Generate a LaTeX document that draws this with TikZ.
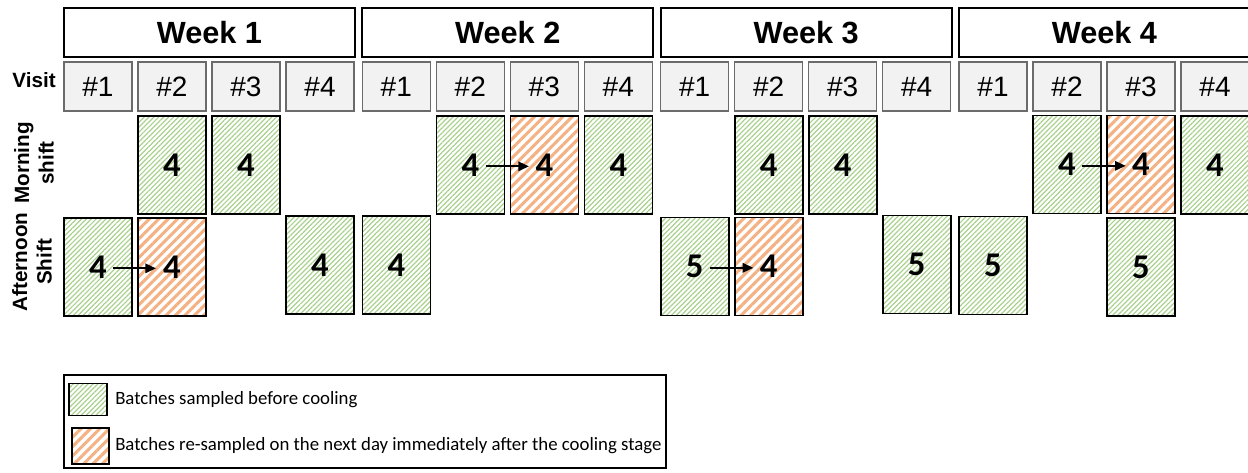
\documentclass[tikz,border=0pt]{standalone}
\usepackage{fontspec}
\setmainfont{Liberation Sans}
\newfontfamily\carlito{Carlito}
\usetikzlibrary{patterns.meta,arrows.meta}

\definecolor{hatchgreen}{HTML}{A9D18E}
\definecolor{hatchorange}{HTML}{F4B183}
\definecolor{visitfill}{HTML}{F2F2F2}
\definecolor{visitline}{HTML}{6B6B6B}

\tikzset{
  weekbox/.style={draw=black, line width=1.4pt, fill=white, minimum width=218.25pt,
    minimum height=36.75pt, inner sep=0pt, font=\fontsize{23}{25}\selectfont\bfseries},
  visitbox/.style={draw=visitline, line width=1.1pt, fill=visitfill, minimum width=51pt,
    minimum height=36.75pt, inner sep=0pt, font=\fontsize{21}{23}\selectfont},
  batch/.style={draw=black, line width=1.2pt, minimum width=51pt, minimum height=73.5pt,
    inner sep=0pt, font=\carlito\fontsize{26}{28}\selectfont\bfseries},
  before/.style={batch, pattern={Lines[angle=45,distance=2.6pt,line width=0.9pt]},
    pattern color=hatchgreen},
  after/.style={batch, pattern={Lines[angle=45,distance=5pt,line width=2.3pt]},
    pattern color=hatchorange},
  rowlabel/.style={font=\fontsize{15.5}{18.5}\selectfont\bfseries, align=center, inner sep=0pt},
  carry/.style={line width=1.5pt, -{Triangle[length=8pt,width=7pt]}},
  legendtext/.style={anchor=west, inner sep=0pt, font=\carlito\fontsize{14.1}{16}\selectfont},
}

\begin{document}
\begin{tikzpicture}[x=0.75pt, y=-0.75pt]
\useasboundingbox (0,0) rectangle (1248,472);
\clip (0,0) rectangle (1248,472);

% week headers
\node[weekbox] (w1) at (209.5,32.5) {Week 1};
\node[weekbox] (w2) at (507.8,32.5) {Week 2};
\node[weekbox] (w3) at (806.2,32.5) {Week 3};
\node[weekbox] (w4) at (1104.5,32.5) {Week 4};

% visit headers
\node[rowlabel] (visit) at (34,80) {Visit};
\foreach \w/\x in {1/64, 2/362.3, 3/660.7, 4/959}{
  \foreach \v in {1,...,4}{
    \node[visitbox] (v\w-\v) at ({\x+34+74*(\v-1)},86.5) {\#\v};
  }
}

% shift labels
\node[rowlabel, rotate=90] (morning) at (34,163) {Morning\\shift};
\node[rowlabel, rotate=90] (afternoon) at (32,262) {Afternoon\\Shift};

% week 1
\node[before] (m1-2) at (172,165) {4};
\node[before] (m1-3) at (246,165) {4};
\node[before] (a1-1) at (98,267) {4};
\node[after]  (a1-2) at (172,267) {4};
\node[before] (a1-4) at (320,265) {4};

% week 2
\node[before] (m2-2) at (470.3,165) {4};
\node[after]  (m2-3) at (544.3,165) {4};
\node[before] (m2-4) at (618.3,165) {4};
\node[before] (a2-1) at (396.3,265) {4};

% week 3
\node[before] (m3-2) at (768.7,165) {4};
\node[before] (m3-3) at (842.7,165) {4};
\node[before] (a3-1) at (694.7,266.5) {5};
\node[after]  (a3-2) at (768.7,266.5) {4};
\node[before] (a3-4) at (916.7,264.5) {5};

% week 4
\node[before] (m4-2) at (1067,164.5) {4};
\node[after]  (m4-3) at (1141,164.5) {4};
\node[before] (m4-4) at (1215,165) {4};
\node[before] (a4-1) at (993,265.5) {5};
\node[before] (a4-3) at (1141,267) {5};

% batches carried over to the next day
\draw[carry] ([xshift=11.25pt,yshift=-1pt]a1-1.center) -- ([xshift=-12pt,yshift=-1pt]a1-2.center);
\draw[carry] ([xshift=11.5pt,yshift=-1pt]m2-2.center) -- ([xshift=-11.5pt,yshift=-1pt]m2-3.center);
\draw[carry] ([xshift=11.5pt,yshift=-1pt]a3-1.center) -- ([xshift=-11.5pt,yshift=-1pt]a3-2.center);
\draw[carry] ([xshift=11.5pt,yshift=-1pt]m4-2.center) -- ([xshift=-11.5pt,yshift=-1pt]m4-3.center);

% legend
\node[draw=black, line width=1.1pt, minimum width=451.5pt, minimum height=69.75pt, inner sep=0pt]
  (legend) at (365,421.5) {};
\node[draw=black, line width=1.2pt, minimum width=28.5pt, minimum height=24pt, inner sep=0pt,
  pattern={Lines[angle=45,distance=2.6pt,line width=0.9pt]}, pattern color=hatchgreen]
  (keygreen) at (88,399.5) {};
\node[draw=black, line width=1.2pt, minimum width=27.75pt, minimum height=27pt, inner sep=0pt,
  pattern={Lines[angle=45,distance=5pt,line width=2.3pt]}, pattern color=hatchorange]
  (keyorange) at (90.5,446) {};
\node[legendtext] (keygreentext) at (115,400) {Batches sampled before cooling};
\node[legendtext] (keyorangetext) at (115,446) {Batches re-sampled on the next day immediately after the cooling stage};
\end{tikzpicture}
\end{document}
